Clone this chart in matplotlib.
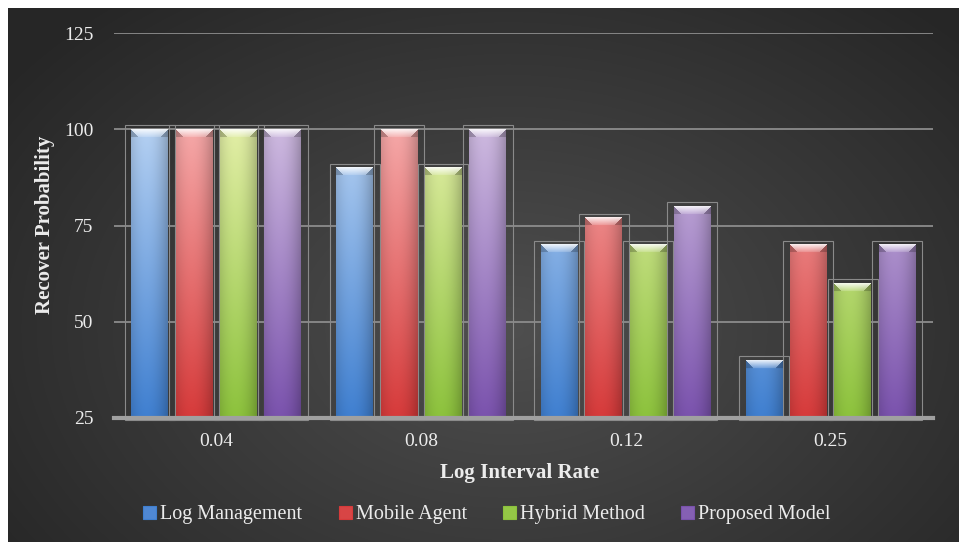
import numpy as np
import matplotlib
matplotlib.use("Agg")
import matplotlib.pyplot as plt
from matplotlib.colors import to_rgb
from matplotlib.patches import Rectangle, Patch

# chart data
categories = ["0.04", "0.08", "0.12", "0.25"]
series_names = ["Log Management", "Mobile Agent", "Hybrid Method", "Proposed Model"]
log_management = [100, 90, 70, 40]
mobile_agent = [100, 100, 77, 70]
hybrid_method = [100, 90, 70, 60]
proposed_model = [100, 100, 80, 70]
all_series = [log_management, mobile_agent, hybrid_method, proposed_model]
y_ticks = [25, 50, 75, 100, 125]

# dark shade at the base, pale shade near 100
bottom_colors = ["#3f7fd0", "#d63a3a", "#8cc23c", "#7a52ad"]
top_colors = ["#b4d0f2", "#f5a8a8", "#e2eea6", "#cdb9df"]
legend_colors = ["#4f88d4", "#d84545", "#94c846", "#8560b4"]

text_color = "#ececec"
font = "Liberation Serif"

fig = plt.figure(figsize=(9.59, 5.42), dpi=100, facecolor="white")

# radial dark background
bg = fig.add_axes([8 / 959, 0, 951 / 959, 534 / 542])
bg.axis("off")
yy, xx = np.mgrid[0:534, 0:951]
r = np.hypot((xx - 500) / 620.0, (yy - 320) / 430.0)
level = 0.31 - 0.16 * np.clip(r, 0, 1)
bg.imshow(np.dstack([level, level, level]), aspect="auto", extent=(0, 1, 0, 1))
bg.set_xlim(0, 1)
bg.set_ylim(0, 1)

ax = fig.add_axes([114 / 959, 1 - 418 / 542, 819 / 959, 385 / 542])
ax.patch.set_alpha(0)

n = len(all_series)
width = 0.18
step = 0.2165
x = np.arange(len(categories))


def bar_image(top_val, c_bot, c_top, ncols=37):
    nrows = max(int((top_val - 25) * 3.85), 2)
    yv = np.linspace(top_val, 25, nrows)
    t = np.clip((yv - 25) / 75.0, 0, 1.1)[:, None, None]
    cb = np.array(to_rgb(c_bot))
    ct = np.array(to_rgb(c_top))
    img = cb + (ct - cb) * t
    img = np.repeat(img, ncols, axis=1)
    xs = np.linspace(0, 1, ncols)
    shade = 1 - 0.22 * (np.abs(xs - 0.42) / 0.58) ** 2
    img = img * shade[None, :, None]
    # bevel highlight at the top
    for k in range(min(8, nrows)):
        a = 0.85 - 0.09 * k
        img[k, k:ncols - k] = img[k, k:ncols - k] * (1 - a) + a
        img[k, :k] *= 0.8
        img[k, ncols - k:] *= 0.8
    return np.clip(img, 0, 1)


for i, vals in enumerate(all_series):
    pos = x + (i - (n - 1) / 2) * step
    heights = [v - 25 for v in vals]
    bars = ax.bar(pos, heights, width, bottom=25, color="none", zorder=3)
    for rect, v in zip(bars, vals):
        x0 = rect.get_x()
        w = rect.get_width()
        ax.imshow(bar_image(v, bottom_colors[i], top_colors[i]),
                  extent=(x0, x0 + w, 25, v), aspect="auto",
                  interpolation="bilinear", zorder=3)
        pad = 0.032
        ax.add_patch(Rectangle((x0 - pad, 24.5), w + 2 * pad, v + 1 - 24.5,
                               fill=False, edgecolor="#8a8a8a", lw=0.8,
                               zorder=2, clip_on=False))

ax.set_xlim(-0.5, len(categories) - 0.5)
ax.set_ylim(25, 125)
ax.set_yticks(y_ticks)
ax.set_xticks(x)
ax.set_xticklabels(categories)
ax.yaxis.grid(True, color="#8c8c8c", lw=1.3)
ax.set_axisbelow(True)
for s in ["top", "left", "right"]:
    ax.spines[s].set_visible(False)
ax.spines["bottom"].set_color("#a0a0a0")
ax.spines["bottom"].set_linewidth(3)
ax.spines["bottom"].set_zorder(4)
ax.tick_params(axis="both", length=0, labelcolor=text_color, labelsize=14)
ax.tick_params(axis="y", pad=15)
ax.tick_params(axis="x", pad=11)
for lab in ax.get_xticklabels() + ax.get_yticklabels():
    lab.set_fontfamily(font)

fig.text(45 / 959, 1 - 225 / 542, "Recover Probability", rotation=90,
         ha="center", va="center", color=text_color, fontsize=15,
         fontweight="bold", family=font)
fig.text(520 / 959, 1 - 473 / 542, "Log Interval Rate", ha="center",
         va="center", color=text_color, fontsize=15, fontweight="bold",
         family=font)

handles = [Patch(facecolor=c, edgecolor=b, lw=0.8)
           for c, b in zip(legend_colors, bottom_colors)]
leg = fig.legend(handles, series_names, loc="center",
                 bbox_to_anchor=(487 / 959, 1 - 515 / 542), ncol=4,
                 frameon=False, prop={"family": font, "size": 14.5},
                 labelcolor=text_color, handlelength=0.65, handleheight=0.65,
                 handletextpad=0.2, columnspacing=1.8)

fig.savefig("out.png", dpi=100, facecolor=fig.get_facecolor())
